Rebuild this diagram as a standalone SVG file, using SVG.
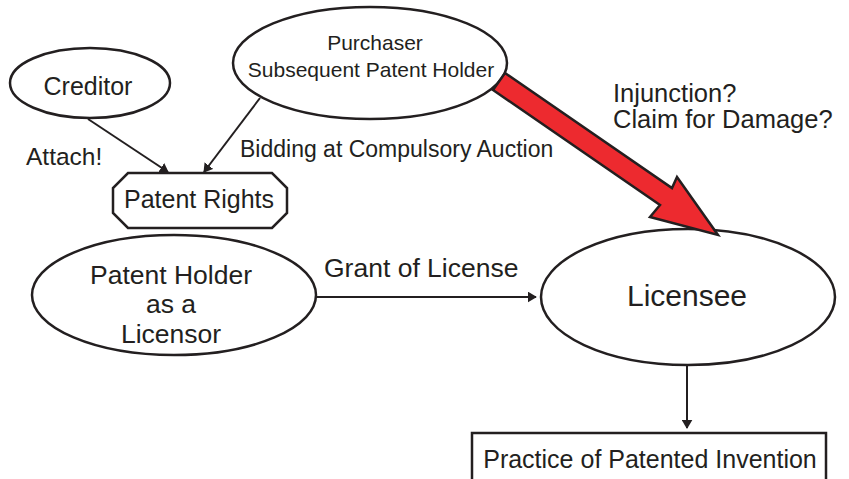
<svg xmlns="http://www.w3.org/2000/svg" width="849" height="479" viewBox="0 0 849 479">
  <style>
    .shape { fill: #ffffff; stroke: #231f20; stroke-width: 2.5; }
    .txt { font-family: "Liberation Sans", Arial, sans-serif; fill: #231f20; }
    .mid { text-anchor: middle; }
    .edge { fill: none; stroke: #231f20; stroke-width: 2; }
  </style>
  <defs>
    <marker id="arrow" viewBox="0 0 10 12" refX="9" refY="6" markerWidth="9" markerHeight="11" markerUnits="userSpaceOnUse" orient="auto">
      <path d="M0,0 L10,6 L0,12 z" fill="#231f20"/>
    </marker>
  </defs>
  <rect width="849" height="479" fill="#ffffff"/>

  <g id="connectors">
    <line class="edge" x1="88" y1="119" x2="168" y2="172" marker-end="url(#arrow)"/>
    <line class="edge" x1="260" y1="98" x2="204" y2="172" marker-end="url(#arrow)"/>
    <line class="edge" x1="316" y1="297" x2="536" y2="297" marker-end="url(#arrow)"/>
    <line class="edge" x1="687" y1="365" x2="687" y2="428" marker-end="url(#arrow)"/>
    <text class="txt" x="26" y="165" font-size="24.5">Attach!</text>
    <text class="txt" x="240" y="157" font-size="23">Bidding at Compulsory Auction</text>
    <text class="txt" x="324" y="277" font-size="26.5">Grant of License</text>
    <text class="txt" x="613" y="102" font-size="25.5">Injunction?</text>
    <text class="txt" x="613" y="128" font-size="25.5">Claim for Damage?</text>
  </g>

  <g id="creditor">
    <ellipse class="shape" cx="90" cy="83" rx="80" ry="35"/>
    <text class="txt mid" x="88" y="95" font-size="25">Creditor</text>
  </g>

  <g id="purchaser">
    <ellipse class="shape" cx="370" cy="63" rx="137" ry="56"/>
    <text class="txt mid" x="375" y="50" font-size="21">Purchaser</text>
    <text class="txt mid" x="371" y="77" font-size="21">Subsequent Patent Holder</text>
  </g>

  <g id="patent-rights">
    <polygon class="shape" points="128,173 272,173 287,188 287,213 272,228 128,228 113,213 113,188"/>
    <text class="txt mid" x="199" y="208" font-size="25">Patent Rights</text>
  </g>

  <g id="patent-holder">
    <ellipse class="shape" cx="174" cy="295" rx="142" ry="60"/>
    <text class="txt mid" x="171" y="284" font-size="26.5">Patent Holder</text>
    <text class="txt mid" x="171" y="313" font-size="26.5">as a</text>
    <text class="txt mid" x="171" y="343" font-size="26.5">Licensor</text>
  </g>

  <g id="licensee">
    <ellipse class="shape" cx="688" cy="297" rx="147" ry="68"/>
    <text class="txt mid" x="687" y="306" font-size="30">Licensee</text>
  </g>

  <g id="practice">
    <rect class="shape" x="472" y="433" width="354" height="60"/>
    <text class="txt mid" x="650" y="468" font-size="25">Practice of Patented Invention</text>
  </g>

  <g id="claim-arrow">
    <polygon points="505,73 672,188 677,177 718,235 650,217 660,205 493,90" fill="#ed2a2f" stroke="#231f20" stroke-width="2.5" stroke-linejoin="miter"/>
  </g>
</svg>
